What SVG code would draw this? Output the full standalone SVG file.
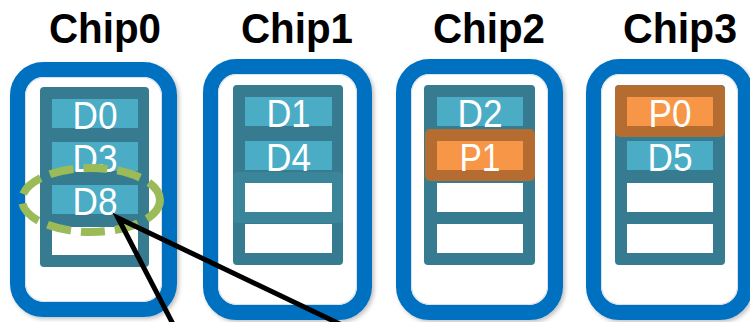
<svg xmlns="http://www.w3.org/2000/svg" width="750" height="322" viewBox="0 0 750 322">
  <style>
    .title { font-family: "Liberation Sans", Arial, sans-serif; font-weight: bold; font-size: 42px; fill: #000; text-anchor: middle; }
    .chip { fill: #fff; stroke: #0070C0; stroke-width: 15; }
    .chip-inner { fill: none; stroke: #d9dfea; stroke-width: 1; }
    .panel { fill: #367B90; }
    .row { fill: #4BACC6; }
    .empty { fill: #fff; }
    .parity-frame { fill: #B56C30; }
    .parity { fill: #F79646; }
    .label { font-family: "Liberation Sans", Arial, sans-serif; font-size: 39px; fill: #fff; text-anchor: middle; }
    .stripe { fill: none; stroke: #9BBB59; stroke-width: 8; stroke-dasharray: 24 10; }
    .callout { fill: none; stroke: #000; stroke-width: 5; stroke-linejoin: miter; }
  </style>
  <defs>
    <filter id="shadow" x="-10%" y="-10%" width="125%" height="125%">
      <feDropShadow dx="2" dy="2" stdDeviation="2" flood-color="#000" flood-opacity="0.25"/>
    </filter>
  </defs>

  <rect width="750" height="322" fill="#fff"/>

  <!-- Chip 0 -->
  <g id="chip0">
    <text class="title" x="105" y="43" textLength="112" lengthAdjust="spacingAndGlyphs">Chip0</text>
    <rect class="chip" x="17.5" y="69.5" width="152" height="240" rx="26" filter="url(#shadow)"/>
    <rect class="chip-inner" x="25.5" y="77.5" width="136" height="224" rx="19"/>
    <rect class="panel" x="40" y="87" width="109" height="180" rx="4"/>
    <rect class="row" x="52" y="99" width="86" height="29"/>
    <rect class="row" x="52" y="142" width="86" height="29"/>
    <rect class="row" x="52" y="185" width="86" height="29"/>
    <rect class="empty" x="52" y="227" width="86" height="28"/>
    <text class="label" x="95" y="129" textLength="45" lengthAdjust="spacingAndGlyphs">D0</text>
    <text class="label" x="95" y="172" textLength="45" lengthAdjust="spacingAndGlyphs">D3</text>
    <text class="label" x="95" y="215" textLength="45" lengthAdjust="spacingAndGlyphs">D8</text>
  </g>

  <!-- Chip 1 -->
  <g id="chip1">
    <text class="title" x="297" y="43" textLength="112" lengthAdjust="spacingAndGlyphs">Chip1</text>
    <rect class="chip" x="210.5" y="66.5" width="154" height="246" rx="26" filter="url(#shadow)"/>
    <rect class="chip-inner" x="218.5" y="74.5" width="138" height="230" rx="19"/>
    <rect class="panel" x="233" y="85" width="110" height="180" rx="4"/>
    <rect x="233" y="172" width="110" height="51" rx="4" fill="#3A8599"/>
    <rect class="row" x="245" y="97" width="87" height="29"/>
    <rect class="row" x="245" y="141" width="87" height="29"/>
    <rect class="empty" x="245" y="183" width="87" height="29"/>
    <rect class="empty" x="245" y="224" width="87" height="29"/>
    <text class="label" x="288.5" y="127" textLength="44" lengthAdjust="spacingAndGlyphs">D1</text>
    <text class="label" x="288.5" y="171" textLength="45" lengthAdjust="spacingAndGlyphs">D4</text>
  </g>

  <!-- Chip 2 -->
  <g id="chip2">
    <text class="title" x="489" y="43" textLength="112" lengthAdjust="spacingAndGlyphs">Chip2</text>
    <rect class="chip" x="403.5" y="66.5" width="152" height="246" rx="26" filter="url(#shadow)"/>
    <rect class="chip-inner" x="411.5" y="74.5" width="136" height="230" rx="19"/>
    <rect class="panel" x="424" y="85" width="111" height="180" rx="4"/>
    <rect class="row" x="437" y="97" width="86" height="29"/>
    <rect class="parity-frame" x="425" y="129" width="110" height="52" rx="5"/>
    <rect class="parity" x="437" y="141" width="86" height="29"/>
    <rect class="empty" x="437" y="183" width="86" height="29"/>
    <rect class="empty" x="437" y="224" width="86" height="29"/>
    <text class="label" x="480" y="127" textLength="45" lengthAdjust="spacingAndGlyphs">D2</text>
    <text class="label" x="480" y="171" textLength="41" lengthAdjust="spacingAndGlyphs">P1</text>
  </g>

  <!-- Chip 3 -->
  <g id="chip3">
    <text class="title" x="680" y="43" textLength="114" lengthAdjust="spacingAndGlyphs">Chip3</text>
    <rect class="chip" x="593.5" y="66.5" width="152" height="246" rx="26" filter="url(#shadow)"/>
    <rect class="chip-inner" x="601.5" y="74.5" width="136" height="230" rx="19"/>
    <rect class="panel" x="615" y="85" width="110" height="180" rx="4"/>
    <rect class="parity-frame" x="615" y="85" width="110" height="52" rx="5"/>
    <rect class="parity" x="627" y="97" width="86" height="29"/>
    <rect class="row" x="627" y="141" width="86" height="29"/>
    <rect class="empty" x="627" y="183" width="86" height="29"/>
    <rect class="empty" x="627" y="224" width="86" height="29"/>
    <text class="label" x="670" y="127" textLength="43" lengthAdjust="spacingAndGlyphs">P0</text>
    <text class="label" x="670" y="171" textLength="45" lengthAdjust="spacingAndGlyphs">D5</text>
  </g>

  <!-- stripe highlight and callout pointer -->
  <g id="connectors">
    <ellipse class="stripe" cx="91" cy="200" rx="69" ry="32"/>
    <path class="callout" d="M174,326 L118,218 L344,326"/>
  </g>
</svg>
